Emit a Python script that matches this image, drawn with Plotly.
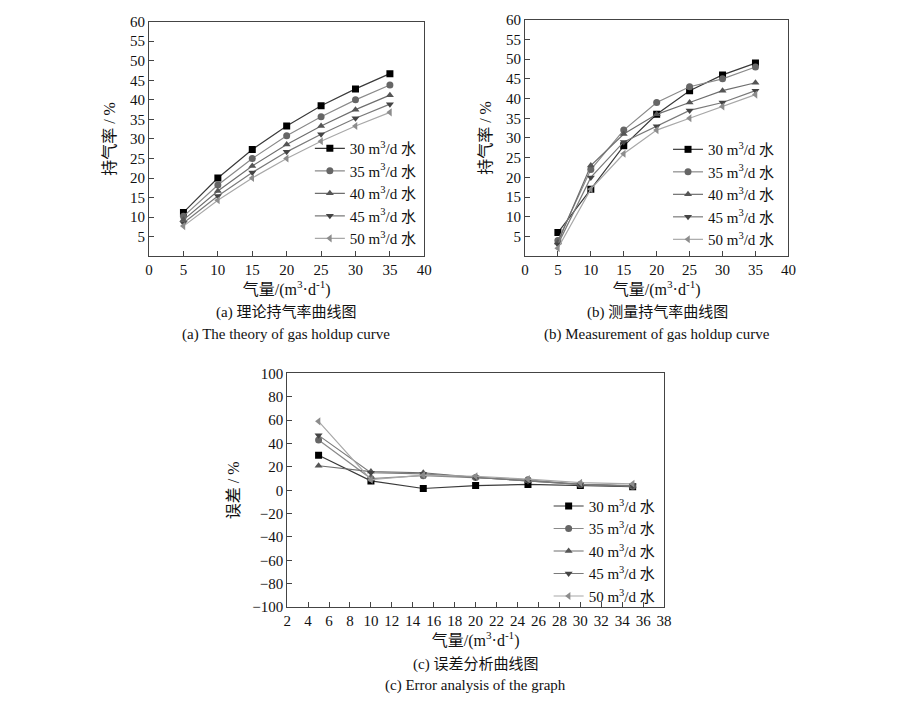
import plotly.graph_objects as go

gas = [5, 10, 15, 20, 25, 30, 35]
names = ["30 m<sup>3</sup>/d 水", "35 m<sup>3</sup>/d 水", "40 m<sup>3</sup>/d 水",
         "45 m<sup>3</sup>/d 水", "50 m<sup>3</sup>/d 水"]

# (a) theoretical gas holdup, %
theory_30 = [11.2, 20.0, 27.3, 33.3, 38.5, 42.8, 46.7]
theory_35 = [10.2, 18.2, 25.0, 30.8, 35.7, 40.0, 43.8]
theory_40 = [9.3, 16.7, 23.1, 28.6, 33.3, 37.5, 41.2]
theory_45 = [8.5, 15.4, 21.4, 26.7, 31.2, 35.3, 38.9]
theory_50 = [7.7, 14.3, 20.0, 25.0, 29.4, 33.3, 36.8]

# (b) measured gas holdup, %
meas_30 = [6, 17, 28, 36, 42, 46, 49]
meas_35 = [4, 22, 32, 39, 43, 45, 48]
meas_40 = [3.5, 23, 31, 36, 39, 42, 44]
meas_45 = [3, 20, 29, 33, 37, 39, 42]
meas_50 = [2, 17, 26, 32, 35, 38, 41]

# (c) error, %
err_30 = [30, 8, 1.5, 4, 5, 4, 3]
err_35 = [43, 10, 12.5, 11, 9, 5, 3.5]
err_40 = [21, 16, 15, 11, 8, 5, 3.5]
err_45 = [47, 15, 14, 11, 8, 5, 4]
err_50 = [59, 9, 13, 12, 9.5, 6.5, 5.5]

symbols = ["square", "circle", "triangle-up", "triangle-down", "triangle-left"]
mcolors = ["#000000", "#666666", "#555555", "#444444", "#8c8c8c"]
lcolors = ["#3a3a3a", "#8a8a8a", "#6e6e6e", "#7a7a7a", "#a8a8a8"]

FONT = "Liberation Serif, Noto Sans CJK SC"

fig = go.Figure()
panels = [
    ([theory_30, theory_35, theory_40, theory_45, theory_50], "x", "y", "legend"),
    ([meas_30, meas_35, meas_40, meas_45, meas_50], "x2", "y2", "legend2"),
    ([err_30, err_35, err_40, err_45, err_50], "x3", "y3", "legend3"),
]
for series, xa, ya, lg in panels:
    for i, vals in enumerate(series):
        fig.add_trace(go.Scatter(
            x=gas, y=vals, name=names[i], mode="lines+markers",
            xaxis=xa, yaxis=ya, legend=lg,
            line=dict(color=lcolors[i], width=1.2),
            marker=dict(symbol=symbols[i], size=7, color=mcolors[i])))

W, H = 900, 702
def px(x0, x1):
    return [x0 / W, x1 / W]
def py(top, bottom):
    return [(H - bottom) / H, (H - top) / H]

ax = dict(showline=True, linecolor="#444", linewidth=1, mirror=True,
          ticks="inside", ticklen=5, tickcolor="#444", showgrid=False,
          zeroline=False, tickfont=dict(size=15, color="#111"),
          title_font=dict(size=16, color="#111"))
xtitle = "气量/(m<sup>3</sup>·d<sup>-1</sup>)"

fig.update_layout(
    width=W, height=H, margin=dict(l=0, r=0, t=0, b=0),
    plot_bgcolor="white", paper_bgcolor="white",
    font=dict(family=FONT, size=15, color="#111"),
    xaxis=dict(ax, domain=px(147, 426), range=[0, 40], tickvals=list(range(0, 45, 5)),
               anchor="y", title=dict(text=xtitle, standoff=2)),
    yaxis=dict(ax, domain=py(14, 254), range=[0, 60], tickvals=list(range(5, 65, 5)),
               anchor="x", title=dict(text="持气率 / %", standoff=10)),
    xaxis2=dict(ax, domain=px(528, 795), range=[0, 40], tickvals=list(range(0, 45, 5)),
                anchor="y2", title=dict(text=xtitle, standoff=2)),
    yaxis2=dict(ax, domain=py(12, 254), range=[0, 60], tickvals=list(range(5, 65, 5)),
                anchor="x2", title=dict(text="持气率 / %", standoff=10)),
    xaxis3=dict(ax, domain=px(287, 669), range=[2, 38], tickvals=list(range(2, 40, 2)),
                anchor="y3", title=dict(text=xtitle, standoff=2)),
    yaxis3=dict(ax, domain=py(374, 613), range=[-100, 100], tickvals=list(range(-100, 120, 20)),
                anchor="x3", title=dict(text="误差 / %", standoff=8)),
)

leg = dict(bgcolor="rgba(0,0,0,0)", font=dict(size=15), tracegroupgap=0,
           itemwidth=30, xanchor="left", yanchor="top")
fig.update_layout(
    legend=dict(leg, x=310 / W, y=(H - 127) / H),
    legend2=dict(leg, x=673 / W, y=(H - 128) / H),
    legend3=dict(leg, x=552 / W, y=(H - 493) / H),
)

captions = [
    (286, 312, "(a) 理论持气率曲线图"),
    (286, 334, "(a) The theory of gas holdup curve"),
    (662, 312, "(b) 测量持气率曲线图"),
    (662, 334, "(b) Measurement of gas holdup curve"),
    (478, 672, "(c) 误差分析曲线图"),
    (478, 693, "(c) Error analysis of the graph"),
]
for cx, cy, txt in captions:
    fig.add_annotation(x=cx / W, y=(H - cy) / H, xref="paper", yref="paper",
                       xanchor="center", yanchor="middle",
                       text=txt, showarrow=False, font=dict(size=15, color="#111"))

fig.write_html("out.html", config={"displayModeBar": False},
               post_script="document.body.style.margin='0';")
